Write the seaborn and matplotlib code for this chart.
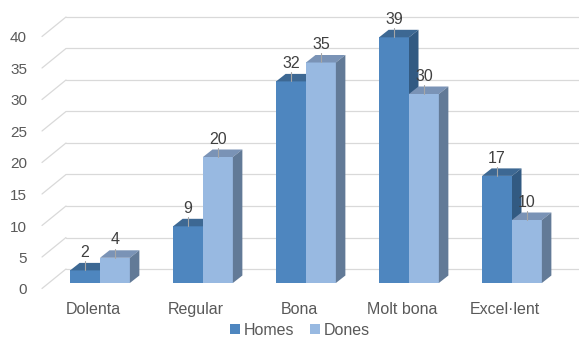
import matplotlib
matplotlib.use("Agg")
import matplotlib.pyplot as plt
from matplotlib.patches import Polygon
from matplotlib.transforms import ScaledTranslation
import seaborn as sns
import pandas as pd

categories = ["Dolenta", "Regular", "Bona", "Molt bona", "Excel·lent"]
series_names = ["Homes", "Dones"]
homes = [2, 9, 32, 39, 17]
dones = [4, 20, 35, 30, 10]
y_ticks = [0, 5, 10, 15, 20, 25, 30, 35, 40]

front_colors = {"Homes": "#4E86BF", "Dones": "#98B9E1"}
top_colors = {"Homes": "#3D6893", "Dones": "#7A93B6"}
side_colors = {"Homes": "#325A82", "Dones": "#627A97"}

df = pd.DataFrame({
    "categoria": categories * 2,
    "sexe": [series_names[0]] * len(categories) + [series_names[1]] * len(categories),
    "valor": homes + dones,
})

sns.set_theme(style="white")
plt.rcParams["font.family"] = ["Liberation Sans", "DejaVu Sans"]

W, H, DPI = 579, 338, 100
fig = plt.figure(figsize=(W / DPI, H / DPI), dpi=DPI)
ax_l, ax_b, ax_w, ax_h = 48.5, 55, 515, 252
ax = fig.add_axes([ax_l / W, ax_b / H, ax_w / W, ax_h / H])

sns.barplot(data=df, x="categoria", y="valor", hue="sexe", order=categories,
            hue_order=series_names, palette=front_colors, width=0.58,
            saturation=1, edgecolor="none", linewidth=0, ax=ax)

ax.set_xlim(-0.5, len(categories) - 0.5)
ax.set_ylim(0, 40)

# pixel -> data unit conversion
px_x = ax_w / len(categories)
px_y = ax_h / 40.0

def dx(p):
    return p / px_x

def dy(p):
    return p / px_y

# depth of the bars and of the back wall, in pixels
bar_dx, bar_dy = 9.5, 7.5
wall_dx, wall_dy = 17.5, 14.0
front_dx, front_dy = -6.5, -5.5

grid_color = "#D9D9D9"
x0, x1 = -0.5, len(categories) - 0.5
for v in y_ticks:
    # back wall gridline
    ax.plot([x0 + dx(wall_dx), x1 + dx(wall_dx)], [v + dy(wall_dy)] * 2,
            color=grid_color, lw=0.9, zorder=0.5, clip_on=False)
    # side wall diagonal
    ax.plot([x0 + dx(front_dx), x0 + dx(wall_dx)],
            [v + dy(front_dy), v + dy(wall_dy)],
            color=grid_color, lw=0.9, zorder=0.5, clip_on=False)

# 3D faces for each bar
bars = [p for p in ax.patches if p.get_height() > 0 or p.get_width() > 0][:2 * len(categories)]
for i, p in enumerate(bars):
    name = series_names[i // len(categories)]
    z = 2 if name == "Homes" else 3
    p.set_zorder(z)
    xl = p.get_x()
    xr = xl + p.get_width()
    yt = p.get_height()
    ox, oy = dx(bar_dx), dy(bar_dy)
    top = Polygon([(xl, yt), (xl + ox, yt + oy), (xr + ox, yt + oy), (xr, yt)],
                  closed=True, facecolor=top_colors[name], edgecolor="none",
                  zorder=z, clip_on=False)
    side = Polygon([(xr, 0), (xr, yt), (xr + ox, yt + oy), (xr + ox, oy)],
                   closed=True, facecolor=side_colors[name], edgecolor="none",
                   zorder=z, clip_on=False)
    ax.add_patch(top)
    ax.add_patch(side)
    # value label with leader line
    xc = (xl + xr) / 2
    ax.plot([xc, xc], [yt, yt + dy(9)], color="#A6A6A6", lw=0.8, zorder=4, clip_on=False)
    ax.annotate(f"{int(yt)}", (xc, yt), xytext=(0, 9.6), textcoords="offset points",
                ha="center", va="baseline", fontsize=11.5, color="#404040",
                zorder=5, annotation_clip=False)

ax.set_yticks(y_ticks)
ax.set_yticklabels([str(t) for t in y_ticks])
ax.tick_params(axis="y", length=0, pad=15.5, labelsize=11, labelcolor="#595959")
ax.tick_params(axis="x", length=0, pad=14, labelsize=11.5, labelcolor="#595959")
yshift = ScaledTranslation(0, -6 / DPI, fig.dpi_scale_trans)
for lab in ax.get_yticklabels():
    lab.set_transform(lab.get_transform() + yshift)
xshift = ScaledTranslation(-7 / DPI, 0, fig.dpi_scale_trans)
for lab in ax.get_xticklabels():
    lab.set_transform(lab.get_transform() + xshift)
ax.set_xlabel("")
ax.set_ylabel("")
for s in ax.spines.values():
    s.set_visible(False)
ax.grid(False)
ax.patch.set_alpha(0)

handles, labels = ax.get_legend_handles_labels()
ax.legend(handles, labels, loc="center", bbox_to_anchor=(300 / W, 1 - 330.5 / H),
          bbox_transform=fig.transFigure, ncol=2, frameon=False, fontsize=11.5,
          handlelength=0.6, handleheight=0.6, handletextpad=0.25, columnspacing=1.0,
          labelcolor="#595959", borderpad=0.1)

fig.savefig("out.png", dpi=DPI)
